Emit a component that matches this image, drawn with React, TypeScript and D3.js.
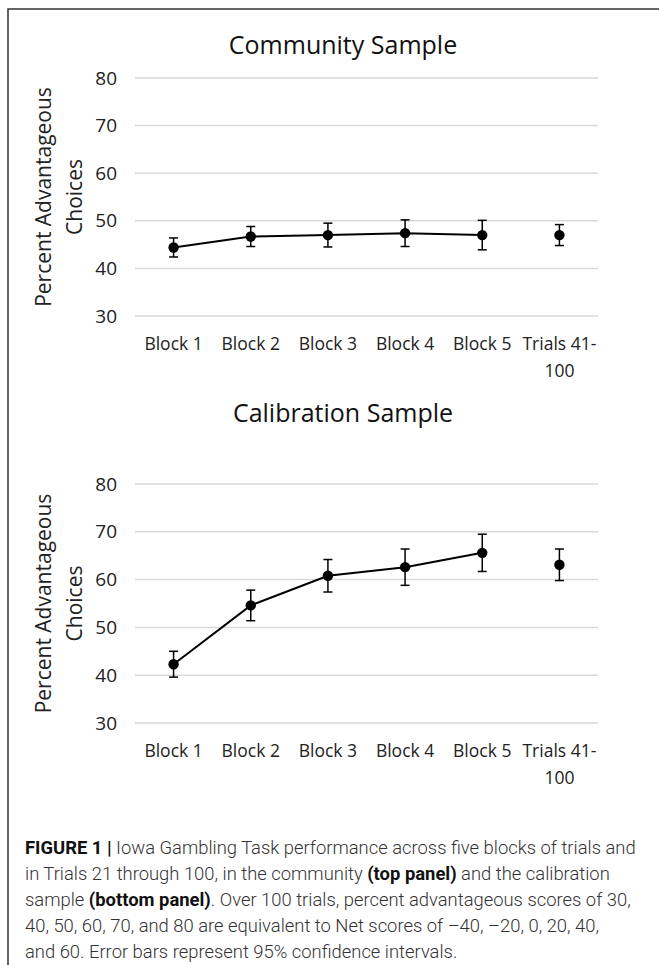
import React, { useEffect, useRef } from "react";
import * as d3 from "d3";

const categories = ["Block 1", "Block 2", "Block 3", "Block 4", "Block 5", "Trials 41-100"];
const tickLabels = [["Block 1"], ["Block 2"], ["Block 3"], ["Block 4"], ["Block 5"], ["Trials 41-", "100"]];
const yTicks = [30, 40, 50, 60, 70, 80];

const communityMeans = [44.4, 46.7, 47.0, 47.4, 47.0, 47.0];
const communityCI = [2.0, 2.1, 2.5, 2.8, 3.1, 2.2];
const calibrationMeans = [42.3, 54.6, 60.8, 62.6, 65.6, 63.1];
const calibrationCI = [2.7, 3.2, 3.4, 3.8, 3.9, 3.3];

const captionLines = [
  [["FIGURE 1 |", true], [" Iowa Gambling Task performance across five blocks of trials and", false]],
  [["in Trials 21 through 100, in the community ", false], ["(top panel)", true], [" and the calibration", false]],
  [["sample ", false], ["(bottom panel)", true], [". Over 100 trials, percent advantageous scores of 30,", false]],
  [["40, 50, 60, 70, and 80 are equivalent to Net scores of \u201340, \u201320, 0, 20, 40,", false]],
  [["and 60. Error bars represent 95% confidence intervals.", false]],
];

const FONT = "'Open Sans', sans-serif";

function drawPanel(svg, title, means, ci, top, bottom, titleY) {
  const g = svg.append("g");

  const x = d3.scaleBand().domain(categories).range([135, 598]);
  const y = d3.scaleLinear().domain([30, 80]).range([bottom, top]);

  g.append("text")
    .attr("x", 343)
    .attr("y", titleY)
    .attr("text-anchor", "middle")
    .style("font-family", FONT)
    .style("font-size", "25px")
    .attr("fill", "#111")
    .text(title);

  // gridlines + y labels
  g.selectAll(".grid")
    .data(yTicks)
    .join("line")
    .attr("x1", 135)
    .attr("x2", 598)
    .attr("y1", (d) => y(d))
    .attr("y2", (d) => y(d))
    .attr("stroke", "#d9d9d9")
    .attr("stroke-width", 1.5);

  g.selectAll(".ylab")
    .data(yTicks)
    .join("text")
    .attr("x", 117)
    .attr("y", (d) => y(d))
    .attr("dy", "0.35em")
    .attr("text-anchor", "end")
    .style("font-family", FONT)
    .style("font-size", "19px")
    .attr("fill", "#222")
    .text((d) => d);

  // axis title
  const mid = (top + bottom) / 2;
  const yt = g.append("text")
    .attr("transform", `translate(0,${mid}) rotate(-90)`)
    .attr("text-anchor", "middle")
    .style("font-family", FONT)
    .style("font-size", "21px")
    .attr("fill", "#222");
  yt.append("tspan").attr("x", 0).attr("y", 51).text("Percent Advantageous");
  yt.append("tspan").attr("x", 0).attr("y", 82).text("Choices");

  // x labels
  tickLabels.forEach((lines, i) => {
    const t = g.append("text")
      .attr("text-anchor", "middle")
      .style("font-family", FONT)
      .style("font-size", "17.5px")
      .attr("fill", "#222");
    lines.forEach((l, j) => {
      t.append("tspan")
        .attr("x", x(categories[i]) + x.bandwidth() / 2)
        .attr("y", bottom + 34 + j * 27)
        .text(l);
    });
  });

  const cx = (i) => x(categories[i]) + x.bandwidth() / 2;

  // line through blocks 1-5
  const line = d3.line()
    .x((d, i) => cx(i))
    .y((d) => y(d));
  g.append("path")
    .datum(means.slice(0, 5))
    .attr("d", line)
    .attr("fill", "none")
    .attr("stroke", "#000")
    .attr("stroke-width", 2);

  // error bars
  means.forEach((m, i) => {
    const lo = y(m - ci[i]);
    const hi = y(m + ci[i]);
    const xc = cx(i);
    g.append("line").attr("x1", xc).attr("x2", xc).attr("y1", lo).attr("y2", hi)
      .attr("stroke", "#000").attr("stroke-width", 1.5);
    [lo, hi].forEach((yy) => {
      g.append("line").attr("x1", xc - 4.5).attr("x2", xc + 4.5).attr("y1", yy).attr("y2", yy)
        .attr("stroke", "#000").attr("stroke-width", 1.5);
    });
  });

  g.selectAll(".pt")
    .data(means)
    .join("circle")
    .attr("cx", (d, i) => cx(i))
    .attr("cy", (d) => y(d))
    .attr("r", 5.2)
    .attr("fill", "#000");
}

export default function App() {
  const ref = useRef(null);

  useEffect(() => {
    const svg = d3.select(ref.current);
    svg.selectAll("*").remove();

    svg.append("rect").attr("width", 659).attr("height", 965).attr("fill", "#fff");

    // figure frame (left and top edges)
    svg.append("path")
      .attr("d", "M8,965 V9 H659")
      .attr("fill", "none")
      .attr("stroke", "#333")
      .attr("stroke-width", 1.5);

    drawPanel(svg, "Community Sample", communityMeans, communityCI, 78, 316, 54);
    drawPanel(svg, "Calibration Sample", calibrationMeans, calibrationCI, 484, 723, 422);

    const cap = svg.append("g");
    captionLines.forEach((parts, i) => {
      const t = cap.append("text")
        .attr("x", 25)
        .attr("y", 854 + i * 26)
        .style("font-family", "Roboto, sans-serif")
        .style("font-size", "18.4px")
        .attr("fill", "#333");
      parts.forEach(([s, b]) => {
        t.append("tspan")
          .style("font-weight", b ? 700 : 300)
          .attr("fill", b ? "#111" : "#333")
          .text(s);
      });
    });
  }, []);

  return (
    <svg
      ref={ref}
      width={659}
      height={965}
      style={{ position: "absolute", left: 0, top: 0 }}
    />
  );
}
